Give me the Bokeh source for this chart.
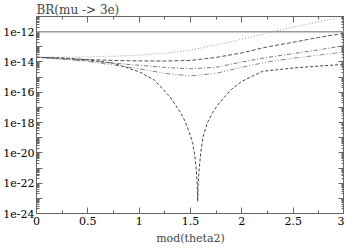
from bokeh.plotting import figure
from bokeh.models import (LogAxis, LinearAxis, FixedTicker, CustomJSTickFormatter,
                          Span, Range1d)
from bokeh.embed import file_html
from bokeh.resources import INLINE

# ---- data (log10 of BR) ----
theta = [0.0, 0.25, 0.5, 0.75, 1.0, 1.25, 1.5, 1.75, 2.0, 2.25, 2.5, 2.75, 3.0]
log_br_a = [-13.69, -13.68, -13.66, -13.62, -13.55, -13.42, -13.22, -12.88, -12.50, -12.08, -11.70, -11.35, -11.00]
log_br_b = [-13.69, -13.76, -13.84, -13.90, -13.93, -13.94, -13.90, -13.70, -13.40, -13.00, -12.70, -12.38, -12.10]
log_br_c = [-13.69, -13.80, -13.92, -14.08, -14.22, -14.36, -14.45, -14.35, -14.00, -13.70, -13.45, -13.20, -12.92]
log_br_d = [-13.69, -13.82, -13.97, -14.20, -14.45, -14.75, -14.92, -14.75, -14.35, -14.00, -13.75, -13.55, -13.34]

theta_e = [0.0, 0.25, 0.5, 0.75, 1.0, 1.15, 1.3, 1.4, 1.45, 1.5, 1.52, 1.54, 1.555, 1.565,
           1.57, 1.575, 1.585, 1.6, 1.62, 1.665, 1.72, 1.78, 1.9, 2.0, 2.2, 2.5, 2.75, 3.0]
log_br_e = [-13.69, -13.74, -13.86, -14.08, -14.65, -15.2, -16.3, -17.3, -17.95, -18.9, -19.3, -20.1, -21.0, -22.0,
            -23.2, -22.0, -21.0, -20.0, -19.0, -18.0, -17.3, -16.7, -15.8, -15.28, -14.62, -14.4, -14.27, -14.16]

exp_bound = 1e-12

x_ticks = [0, 0.5, 1, 1.5, 2, 2.5, 3]
x_minor = [0.25, 0.75, 1.25, 1.75, 2.25, 2.75]
y_exps = list(range(-24, -10))

FONT = "DejaVu Serif"
AX = "#666666"

p = figure(frame_width=308, frame_height=197, x_range=Range1d(0, 3), y_range=Range1d(1e-24, 1e-11),
           y_axis_type="log", output_backend="svg", toolbar_location=None,
           min_border_left=0, min_border_right=0, min_border_top=0, min_border_bottom=0,
           x_axis_location=None, y_axis_location=None)
p.xgrid.visible = False
p.ygrid.visible = False
p.outline_line_color = AX
p.background_fill_color = "white"
p.border_fill_color = "white"

p.title.text = "BR(mu -> 3e)"
p.title.text_font = FONT
p.title.text_font_size = "12px"
p.title.text_font_style = "normal"
p.title.align = "left"
p.title.standoff = 0

xt = FixedTicker(ticks=x_ticks, minor_ticks=x_minor)
ymajor = [10.0 ** e for e in y_exps]
yminor = [k * 10.0 ** e for e in y_exps[:-1] for k in range(2, 10)]
yt = FixedTicker(ticks=ymajor, minor_ticks=yminor)

xfmt = CustomJSTickFormatter(code="return String(Math.round(tick*100)/100);")
yfmt = CustomJSTickFormatter(code="const e = Math.round(Math.log10(tick)); return (e % 2 === 0) ? '1e' + e : '';")
nofmt = CustomJSTickFormatter(code="return '';")


def style(ax, labels=True):
    ax.axis_line_color = AX
    ax.major_tick_line_color = AX
    ax.minor_tick_line_color = AX
    ax.major_tick_in = 6
    ax.major_tick_out = 0
    ax.minor_tick_in = 3
    ax.minor_tick_out = 0
    ax.major_label_text_font = FONT
    ax.major_label_text_font_size = "11px" if labels else "0px"
    ax.major_label_text_color = "black"
    ax.major_label_standoff = 3 if labels else 0


bottom = LinearAxis(ticker=xt, formatter=xfmt, axis_label="mod(theta2)")
style(bottom)
bottom.axis_label_text_font = FONT
bottom.axis_label_text_font_size = "11px"
bottom.axis_label_text_font_style = "normal"
bottom.axis_label_standoff = 4
p.add_layout(bottom, "below")

top = LinearAxis(ticker=xt, formatter=nofmt)
style(top, labels=False)
p.add_layout(top, "above")

left = LogAxis(ticker=yt, formatter=yfmt)
style(left)
left.major_label_standoff = 2
p.add_layout(left, "left")

right = LogAxis(ticker=yt, formatter=nofmt)
style(right, labels=False)
p.add_layout(right, "right")

p.add_layout(Span(location=exp_bound, dimension="width", line_color="#9a9a9a", line_width=1.5))

p.line(theta, [10.0 ** v for v in log_br_a], line_color="#9a9a9a", line_width=1, line_dash="1 2")
p.line(theta, [10.0 ** v for v in log_br_b], line_color="#555555", line_width=1, line_dash="4 2")
p.line(theta, [10.0 ** v for v in log_br_c], line_color="#777777", line_width=1, line_dash="4 2 1 2")
p.line(theta, [10.0 ** v for v in log_br_d], line_color="#888888", line_width=1, line_dash="5 2 1 2 1 2")
p.line(theta_e, [10.0 ** v for v in log_br_e], line_color="#444444", line_width=1, line_dash="3 2")

open("out.html", "w").write(file_html(p, INLINE))
